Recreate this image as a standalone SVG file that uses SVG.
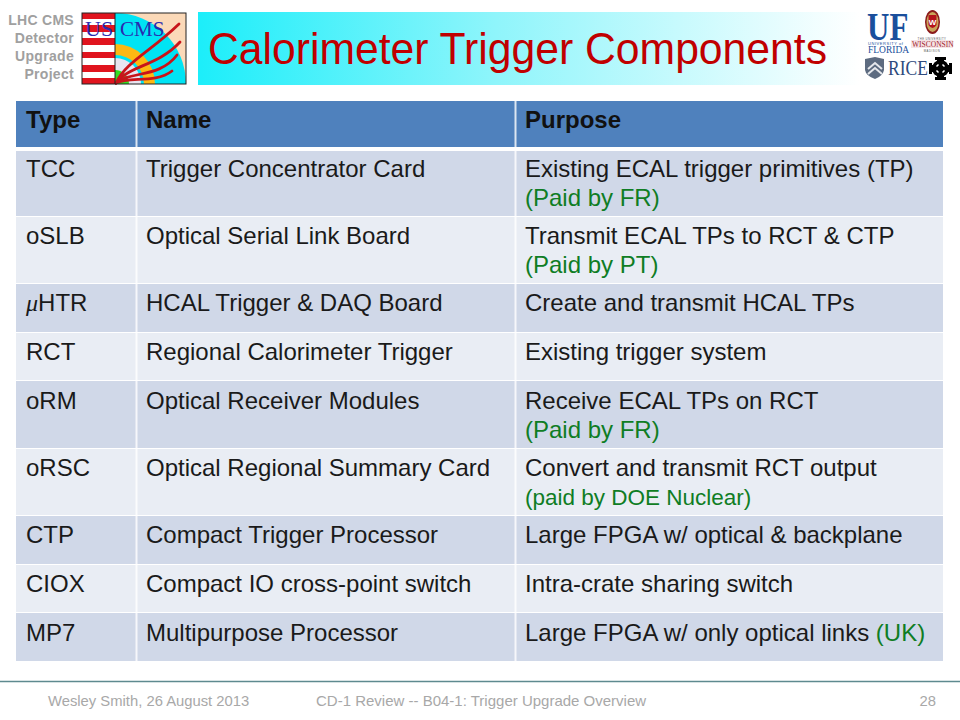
<svg xmlns="http://www.w3.org/2000/svg" width="960" height="720" viewBox="0 0 960 720">
<style>
text{font-family:"Liberation Sans",Arial,sans-serif}
.c{font-size:24px;fill:#1a1a1a}
.b{font-weight:bold;fill:#111}
.g{fill:#0f7d24}
.r1{fill:#d0d8e8}
.r2{fill:#e9edf4}
.h{fill:#4f81bd}
.side{font-size:14px;font-weight:bold;fill:#a0a0a0;text-anchor:end;letter-spacing:.3px}
.foot{font-size:14.800px;fill:#a8a8a8}
.sep{stroke:#fff;stroke-width:2}
.se{font-family:"Liberation Serif",serif}
</style>
<defs>
<linearGradient id="tg" x1="0" x2="1" y1="0" y2="0">
<stop offset="0" stop-color="#1ceefa"/>
<stop offset="0.45" stop-color="#8ff5fb"/>
<stop offset="1" stop-color="#ffffff"/>
</linearGradient>
</defs>
<rect width="960" height="720" fill="#fff"/>

<g id="side-label">
<text class="side" x="74" y="25">LHC CMS</text>
<text class="side" x="74" y="43">Detector</text>
<text class="side" x="74" y="61">Upgrade</text>
<text class="side" x="74" y="79">Project</text>
</g>

<g id="uscms-logo">
<rect x="82" y="13" width="33" height="71" fill="#fff"/>
<path d="M82 13h33v6H82zM82 25h33v7H82zM82 38h33v7H82zM82 52h33v6H82zM82 65h33v7H82zM82 78h33v6H82z" fill="#e0141e"/>
<rect x="115" y="13" width="71" height="71" fill="#fbd9b8"/>
<path d="M115 13A71 71 0 0 1 186 84H115Z" fill="#00e4f4"/>
<path d="M115 44A40 40 0 0 1 155 84H115Z" fill="#fdb813"/>
<path d="M115 55A29 29 0 0 1 144 84H115Z" fill="#00e4f4"/>
<path d="M115 58A26 26 0 0 1 141 84H115Z" fill="#e8e4f0"/>
<path d="M115 70A14 14 0 0 1 129 84H115Z" fill="#33dd22"/>
<g fill="none" stroke="#c8141a" stroke-width="2.800" stroke-linecap="round">
<path d="M116 83C126 62 150 52 179 24"/>
<path d="M116 83C128 66 158 66 180 42"/>
<path d="M116 83C130 71 160 78 177 55"/>
<path d="M116 83C130 76 155 84 172 71"/>
</g>
<text class="se" x="85" y="36" font-size="22" fill="#2a2ab0">US</text>
<text class="se" x="120" y="36" font-size="21" fill="#2a2ab0">CMS</text>
<rect x="82" y="13" width="104" height="71" fill="none" stroke="#222"/>
<line x1="115" y1="13" x2="115" y2="84" stroke="#222"/>
</g>

<g id="title">
<rect x="198" y="12" width="662" height="73" fill="url(#tg)"/>
<text x="208" y="64" font-size="44" fill="#c00000" textLength="619" lengthAdjust="spacingAndGlyphs">Calorimeter Trigger Components</text>
</g>

<g id="institution-logos">
<text class="se" transform="translate(867 39.500) scale(1 1.300)" font-size="31" font-weight="bold" fill="#1a4f9c">UF</text>
<text x="868" y="45" font-size="4" fill="#1a4f9c" letter-spacing=".55">UNIVERSITY of</text>
<text class="se" x="868" y="52.500" font-size="9.500" fill="#1a4f9c">FLORIDA</text>

<ellipse cx="932.500" cy="22" rx="7.500" ry="12" fill="#8b1a1a"/>
<ellipse cx="932.500" cy="22" rx="6" ry="10" fill="#c9a45a"/>
<path d="M928.500 15h8v10q-4 6-8 0z" fill="#b5121b"/>
<text x="932.500" y="25" font-size="8" font-weight="bold" fill="#fff" text-anchor="middle">W</text>
<text x="932" y="39.500" font-size="2.800" fill="#555" text-anchor="middle" letter-spacing=".4">THE UNIVERSITY</text>
<rect x="911" y="40" width="42" height="8" fill="#f6e4e6"/>
<text class="se" x="912" y="47" font-size="7.500" fill="#a01c2c">WISCONSIN</text>
<text x="932" y="52" font-size="2.800" fill="#555" text-anchor="middle" letter-spacing=".5">MADISON</text>

<path d="M865 59l10-2 9 2v11q-1 6-9 9q-9-3-10-9z" fill="#5d6b80"/>
<path d="M868 69l7-6 7 6M868 74l7-6 7 6" fill="none" stroke="#e6e8ec" stroke-width="2"/>
<text class="se" transform="translate(888 75) scale(1 1.250)" font-size="17.500" fill="#2e4a7d">RICE</text>

<g fill="#000">
<path d="M935 57h11v3h-2v4h-7v-4h-2zM935 80h11v-3h-2v-4h-7v4h-2zM929 63h3v2h4v7h-4v2h-3zM952 63h-3v2h-4v7h4v2h3z"/>
<circle cx="940.500" cy="68.500" r="8.500"/>
<g fill="none" stroke="#fff" stroke-width="1.500">
<path d="M942.500 64.500l2 2M938.500 64.500l-2 2M942.500 72.500l2-2M938.500 72.500l-2-2"/>
</g>
</g>
</g>

<g id="table">
<rect class="h" x="16" y="101" width="927" height="46"/>
<rect class="r1" x="16" y="151" width="927" height="65"/>
<rect class="r2" x="16" y="217" width="927" height="66"/>
<rect class="r1" x="16" y="284" width="927" height="48"/>
<rect class="r2" x="16" y="333" width="927" height="47"/>
<rect class="r1" x="16" y="381" width="927" height="67"/>
<rect class="r2" x="16" y="449" width="927" height="66"/>
<rect class="r1" x="16" y="516" width="927" height="48"/>
<rect class="r2" x="16" y="565" width="927" height="47"/>
<rect class="r1" x="16" y="613" width="927" height="48"/>
<line class="sep" x1="136.500" y1="101" x2="136.500" y2="661" stroke-opacity=".8"/>
<line class="sep" x1="515.500" y1="101" x2="515.500" y2="661" stroke-opacity=".8"/>
</g>

<g id="table-text">
<text class="c b" x="26" y="128">Type</text>
<text class="c b" x="146" y="128">Name</text>
<text class="c b" x="525" y="128">Purpose</text>

<text class="c" x="26" y="177">TCC</text>
<text class="c" x="146" y="177">Trigger Concentrator Card</text>
<text class="c" x="525" y="177">Existing ECAL trigger primitives (TP)</text>
<text class="c g" x="525" y="206">(Paid by FR)</text>

<text class="c" x="26" y="244">oSLB</text>
<text class="c" x="146" y="244">Optical Serial Link Board</text>
<text class="c" x="525" y="244">Transmit ECAL TPs to RCT &amp; CTP</text>
<text class="c g" x="525" y="273">(Paid by PT)</text>

<text class="c" x="26" y="311"><tspan class="se" font-style="italic">μ</tspan>HTR</text>
<text class="c" x="146" y="311">HCAL Trigger &amp; DAQ Board</text>
<text class="c" x="525" y="311">Create and transmit HCAL TPs</text>

<text class="c" x="26" y="360">RCT</text>
<text class="c" x="146" y="360">Regional Calorimeter Trigger</text>
<text class="c" x="525" y="360">Existing trigger system</text>

<text class="c" x="26" y="409">oRM</text>
<text class="c" x="146" y="409">Optical Receiver Modules</text>
<text class="c" x="525" y="409">Receive ECAL TPs on RCT</text>
<text class="c g" x="525" y="438">(Paid by FR)</text>

<text class="c" x="26" y="476">oRSC</text>
<text class="c" x="146" y="476">Optical Regional Summary Card</text>
<text class="c" x="525" y="476">Convert and transmit RCT output</text>
<text class="c g" style="font-size:22.500px" x="525" y="505">(paid by DOE Nuclear)</text>

<text class="c" x="26" y="543">CTP</text>
<text class="c" x="146" y="543">Compact Trigger Processor</text>
<text class="c" x="525" y="543">Large FPGA w/ optical &amp; backplane</text>

<text class="c" x="26" y="592">CIOX</text>
<text class="c" x="146" y="592">Compact IO cross-point switch</text>
<text class="c" x="525" y="592">Intra-crate sharing switch</text>

<text class="c" x="26" y="641">MP7</text>
<text class="c" x="146" y="641">Multipurpose Processor</text>
<text class="c" x="525" y="641">Large FPGA w/ only optical links <tspan class="g">(UK)</tspan></text>
</g>

<g id="footer">
<line x1="0" y1="681.500" x2="960" y2="681.500" stroke="#5e8a8f" stroke-width="1.500"/>
<text class="foot" x="48" y="706">Wesley Smith, 26 August 2013</text>
<text class="foot" x="316" y="706" style="font-size:15px">CD-1 Review -- B04-1: Trigger Upgrade Overview</text>
<text class="foot" x="936" y="706" text-anchor="end">28</text>
</g>
</svg>
